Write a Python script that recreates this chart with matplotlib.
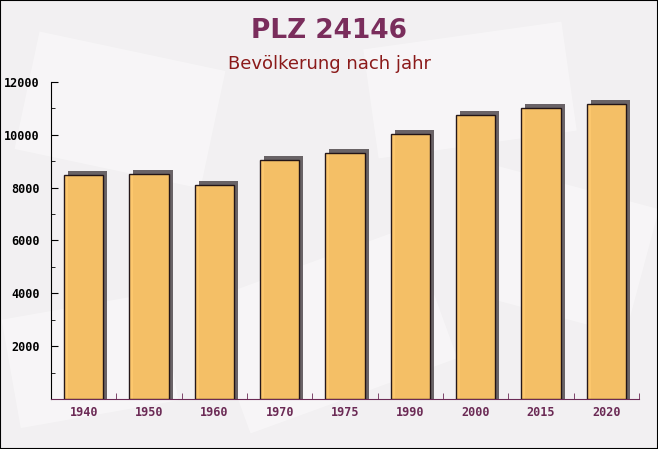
import matplotlib.pyplot as plt
import matplotlib.transforms as mtransforms
import numpy as np

# data
years = ['1940', '1950', '1960', '1970', '1975', '1990', '2000', '2015', '2020']
population = [8480, 8520, 8100, 9050, 9320, 10040, 10760, 11020, 11170]

fig = plt.figure(figsize=(6.58, 4.49), dpi=100)
fig.patch.set_facecolor('#f2f0f2')
ax = fig.add_axes([0.0775, 0.1114, 0.8935, 0.706])
ax.set_facecolor('none')

# a few pale rotated sheets in the background
bg = fig.add_axes([0, 0, 1, 1], zorder=-1)
bg.set_xlim(0, 658)
bg.set_ylim(449, 0)
bg.axis('off')
for (cx, cy, w, h, ang) in [(120, 110, 190, 120, 12), (330, 330, 220, 140, -20),
                             (560, 250, 170, 130, 15), (90, 360, 160, 110, -10),
                             (470, 90, 200, 110, -8)]:
    r = plt.Rectangle((cx - w / 2, cy - h / 2), w, h, angle=ang, rotation_point='center',
                      facecolor='white', alpha=0.4, edgecolor='none')
    bg.add_patch(r)

x = np.arange(len(years))
shadow = ax.transData + mtransforms.ScaledTranslation(4 / 100, 4 / 100, fig.dpi_scale_trans)
ax.bar(x, np.array(population) + 600, bottom=-600, width=0.6, color='#514a4e',
       alpha=0.85, transform=shadow, zorder=2)
ax.bar(x, population, width=0.6, color='#fdc566', edgecolor='#1a0d12',
       linewidth=1.0, alpha=0.95, zorder=3)

ax.set_xlim(-0.5, len(years) - 0.5)
ax.set_ylim(0, 12000)
ax.set_yticks(np.arange(2000, 12001, 2000))
ax.set_yticks(np.arange(0, 12001, 1000), minor=True)
ax.set_xticks(x)
ax.set_xticks(np.arange(-0.5, len(years), 1), minor=True)
ax.set_xticklabels(years)

for s in ['top', 'right']:
    ax.spines[s].set_visible(False)
ax.spines['left'].set_color('black')
ax.spines['bottom'].set_color('#6b2a55')

ax.tick_params(axis='y', which='major', direction='in', length=5, color='black',
               labelsize=8.5, labelcolor='black', pad=8)
ax.tick_params(axis='y', which='minor', direction='in', length=3, color='black')
ax.tick_params(axis='x', which='major', length=0, labelsize=8.5, labelcolor='#6b2a55', pad=5)
ax.tick_params(axis='x', which='minor', direction='in', length=4, color='#6b2a55')
for lab in ax.get_yticklabels() + ax.get_xticklabels():
    lab.set_family('DejaVu Sans Mono')
    lab.set_fontweight('bold')

fig.text(0.5, 0.932, 'PLZ 24146', ha='center', va='center', fontsize=19,
         fontweight='bold', color='#7a2d5c')
fig.text(0.5, 0.857, 'Bevölkerung nach jahr', ha='center', va='center', fontsize=13,
         color='#8b1a1a')

# thin dark frame around the picture
fig.add_artist(plt.Rectangle((0, 0), 1, 1, transform=fig.transFigure, fill=False,
                             edgecolor='black', linewidth=1.5))

fig.savefig('out.png', dpi=100, facecolor=fig.get_facecolor())
